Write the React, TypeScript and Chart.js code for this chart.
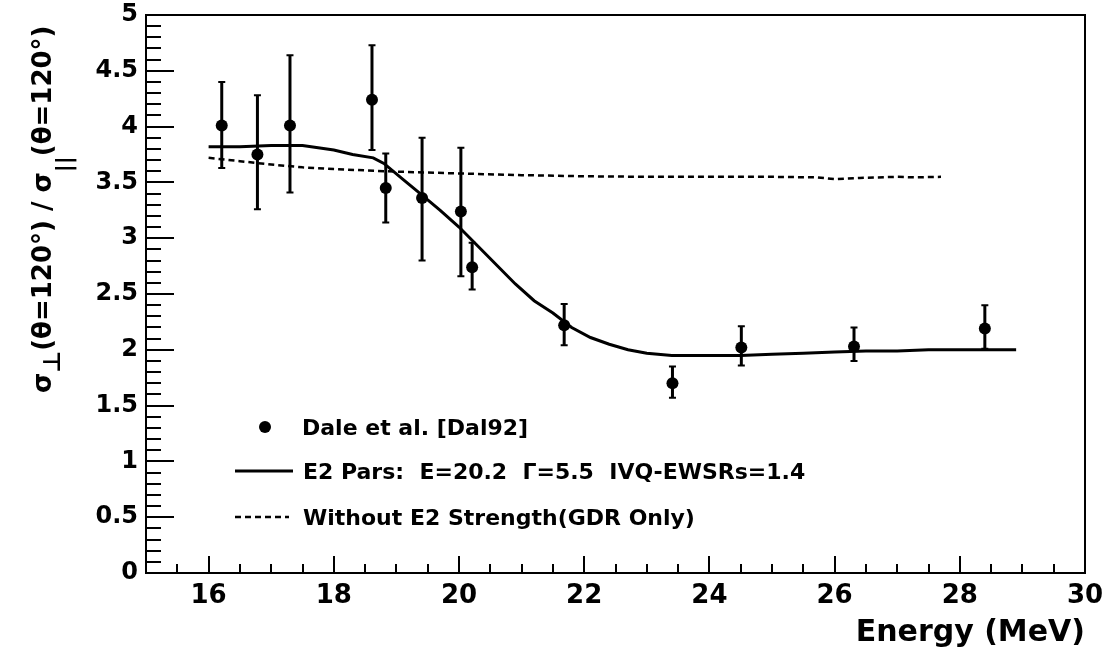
import React, { useEffect, useRef } from 'react';
import { Chart, registerables } from 'chart.js';

Chart.register(...registerables);

// Measured data (Dale et al. [Dal92])
const energies = [16.21, 16.78, 17.3, 18.61, 18.83, 19.41, 20.03, 20.21, 21.68, 23.41, 24.51, 26.31, 28.4];
const ratios = [4.01, 3.75, 4.01, 4.24, 3.45, 3.36, 3.24, 2.74, 2.22, 1.7, 2.02, 2.03, 2.19];
const errHigh = [4.4, 4.28, 4.64, 4.73, 3.76, 3.9, 3.81, 2.96, 2.41, 1.85, 2.21, 2.2, 2.4];
const errLow = [3.63, 3.26, 3.41, 3.79, 3.14, 2.8, 2.66, 2.54, 2.04, 1.57, 1.86, 1.9, 2.01];

// E2 fit curve
const fitX = [16.0, 16.5, 17.0, 17.5, 18.0, 18.3, 18.63, 18.8, 19.1, 19.4, 19.7, 20.0, 20.3, 20.6, 20.9, 21.2, 21.5, 21.8, 22.1, 22.4, 22.7, 23.0, 23.4, 24.0, 24.5, 25.0, 25.5, 26.0, 26.5, 27.0, 27.5, 28.0, 28.9];
const fitY = [3.82, 3.82, 3.83, 3.83, 3.79, 3.75, 3.72, 3.67, 3.53, 3.39, 3.25, 3.1, 2.93, 2.76, 2.59, 2.44, 2.33, 2.2, 2.11, 2.05, 2.0, 1.97, 1.95, 1.95, 1.95, 1.96, 1.97, 1.98, 1.99, 1.99, 2.0, 2.0, 2.0];

// GDR only curve
const gdrX = [16.0, 16.5, 17.0, 17.5, 18.0, 18.8, 20.0, 21.0, 22.0, 23.0, 24.0, 25.0, 25.7, 26.0, 26.4, 27.0, 27.3, 27.7];
const gdrY = [3.72, 3.69, 3.66, 3.635, 3.62, 3.6, 3.58, 3.565, 3.555, 3.55, 3.55, 3.55, 3.545, 3.53, 3.54, 3.55, 3.545, 3.55];

const xTickValues = [16, 18, 20, 22, 24, 26, 28, 30];
const yTickValues = [0, 0.5, 1, 1.5, 2, 2.5, 3, 3.5, 4, 4.5, 5];

const legendLabels = [
  'Dale et al. [Dal92]',
  'E2 Pars:  E=20.2  Γ=5.5  IVQ-EWSRs=1.4',
  'Without E2 Strength(GDR Only)',
];
const xTitle = 'Energy (MeV)';

const FONT = '"DejaVu Sans", "Liberation Sans", sans-serif';

const overlayPlugin = {
  id: 'overlay',
  beforeDatasetsDraw(chart: any) {
    const { ctx, scales } = chart;
    const x = scales.x;
    const y = scales.y;
    ctx.save();
    ctx.strokeStyle = '#000';
    for (let i = 0; i < energies.length; i++) {
      const px = x.getPixelForValue(energies[i]);
      const top = y.getPixelForValue(errHigh[i]);
      const bot = y.getPixelForValue(errLow[i]);
      ctx.lineWidth = 3;
      ctx.beginPath();
      ctx.moveTo(px, top);
      ctx.lineTo(px, bot);
      ctx.stroke();
      ctx.lineWidth = 2;
      ctx.beginPath();
      ctx.moveTo(px - 3.5, top);
      ctx.lineTo(px + 3.5, top);
      ctx.moveTo(px - 3.5, bot);
      ctx.lineTo(px + 3.5, bot);
      ctx.stroke();
    }
    ctx.restore();
  },
  afterDraw(chart: any) {
    const { ctx, chartArea, scales } = chart;
    const x = scales.x;
    const y = scales.y;
    const { left, right, top, bottom } = chartArea;
    ctx.save();
    ctx.strokeStyle = '#000';
    ctx.lineWidth = 2;
    // frame top and right
    ctx.beginPath();
    ctx.moveTo(left, top);
    ctx.lineTo(right, top);
    ctx.lineTo(right, bottom);
    ctx.stroke();
    // inward ticks y
    ctx.beginPath();
    for (let i = 0; i <= 50; i++) {
      const v = i / 10;
      const py = Math.round(y.getPixelForValue(v));
      const len = i % 5 === 0 ? 28 : 15;
      ctx.moveTo(left, py);
      ctx.lineTo(left + len, py);
    }
    // inward ticks x
    for (let i = 0; i <= 30; i++) {
      const v = 15 + i * 0.5;
      const px = Math.round(x.getPixelForValue(v));
      const len = v % 2 === 0 ? 17 : 9;
      ctx.moveTo(px, bottom);
      ctx.lineTo(px, bottom - len);
    }
    ctx.stroke();

    ctx.fillStyle = '#000';
    // x title
    ctx.font = `bold 30px ${FONT}`;
    ctx.textAlign = 'right';
    ctx.textBaseline = 'alphabetic';
    ctx.fillText(xTitle, right, 641);

    // y title (rotated, with subscripts)
    ctx.save();
    ctx.translate(51, 393);
    ctx.rotate(-Math.PI / 2);
    ctx.textAlign = 'left';
    const parts = [
      { t: 'σ', size: 26, dy: 0 },
      { t: '⊥', size: 24, dy: 9 },
      { t: '(θ=120°) / σ', size: 26, dy: 0 },
      { t: '||', size: 22, dy: 20 },
      { t: '(θ=120°)', size: 26, dy: 0 },
    ];
    let cx = 0;
    for (const p of parts) {
      ctx.font = `bold ${p.size}px ${FONT}`;
      ctx.fillText(p.t, cx, p.dy);
      cx += ctx.measureText(p.t).width;
    }
    ctx.restore();

    // legend
    ctx.textAlign = 'left';
    ctx.font = `bold 22px ${FONT}`;
    ctx.beginPath();
    ctx.arc(265, 427, 6, 0, Math.PI * 2);
    ctx.fill();
    ctx.fillText(legendLabels[0], 302, 435);
    ctx.lineWidth = 3;
    ctx.beginPath();
    ctx.moveTo(235, 471);
    ctx.lineTo(293, 471);
    ctx.stroke();
    ctx.fillText(legendLabels[1], 303, 479);
    ctx.lineWidth = 2.5;
    ctx.setLineDash([6, 4]);
    ctx.beginPath();
    ctx.moveTo(235, 517);
    ctx.lineTo(289, 517);
    ctx.stroke();
    ctx.setLineDash([]);
    ctx.fillText(legendLabels[2], 303, 525);
    ctx.restore();
  },
};

export default function App() {
  const canvasRef = useRef<HTMLCanvasElement | null>(null);

  useEffect(() => {
    const canvas = canvasRef.current;
    if (!canvas) return;
    const chart = new Chart(canvas, {
      type: 'scatter',
      data: {
        datasets: [
          {
            label: legendLabels[0],
            data: energies.map((e, i) => ({ x: e, y: ratios[i] })),
            pointRadius: 6,
            pointBackgroundColor: '#000',
            pointBorderColor: '#000',
            pointBorderWidth: 0,
            showLine: false,
          },
          {
            label: legendLabels[1],
            data: fitX.map((e, i) => ({ x: e, y: fitY[i] })),
            showLine: true,
            borderColor: '#000',
            borderWidth: 3,
            pointRadius: 0,
            tension: 0,
          },
          {
            label: legendLabels[2],
            data: gdrX.map((e, i) => ({ x: e, y: gdrY[i] })),
            showLine: true,
            borderColor: '#000',
            borderWidth: 2.5,
            borderDash: [6, 4],
            pointRadius: 0,
            tension: 0,
          },
        ],
      },
      options: {
        animation: false,
        responsive: false,
        events: [],
        layout: { padding: { left: 0, top: 15, right: 22, bottom: 0 } },
        plugins: { legend: { display: false }, tooltip: { enabled: false } },
        scales: {
          x: {
            type: 'linear',
            min: 15,
            max: 30,
            grid: { display: false, drawTicks: false },
            border: { display: true, color: '#000', width: 2 },
            afterBuildTicks: (s: any) => {
              s.ticks = xTickValues.map((v) => ({ value: v }));
            },
            ticks: {
              autoSkip: false,
              maxRotation: 0,
              padding: 8,
              color: '#000',
              font: { family: FONT, weight: 'bold', size: 26 },
              callback: (v: any) => String(v),
            },
            afterFit: (s: any) => {
              s.height = 80;
              s.paddingLeft = 0;
              s.paddingRight = 0;
            },
          },
          y: {
            type: 'linear',
            min: 0,
            max: 5,
            grid: { display: false, drawTicks: false },
            border: { display: true, color: '#000', width: 2 },
            afterBuildTicks: (s: any) => {
              s.ticks = yTickValues.map((v) => ({ value: v }));
            },
            ticks: {
              autoSkip: false,
              padding: 8,
              color: '#000',
              font: { family: FONT, weight: 'bold', size: 24 },
              callback: (v: any) => String(v),
            },
            afterFit: (s: any) => {
              s.width = 146;
              s.paddingTop = 0;
              s.paddingBottom = 0;
            },
          },
        },
      },
      plugins: [overlayPlugin],
    } as any);
    return () => chart.destroy();
  }, []);

  return (
    <div style={{ position: 'absolute', left: 0, top: 0, width: 1107, height: 653, background: '#fff' }}>
      <canvas ref={canvasRef} width={1107} height={653} />
    </div>
  );
}
